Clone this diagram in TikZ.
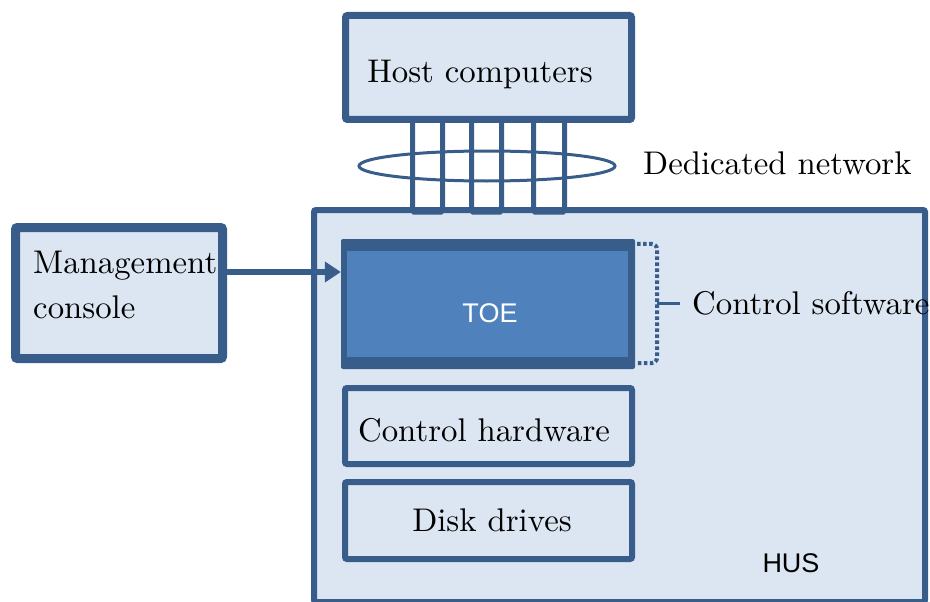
\documentclass[tikz,border=0pt]{standalone}
\usepackage{fontspec}
\setmainfont{lmroman10-regular}[Extension=.otf]
\setsansfont{Liberation Sans}
\usetikzlibrary{shapes.geometric,arrows.meta,calc}
\definecolor{bdr}{HTML}{385D8A}
\definecolor{lite}{HTML}{DCE6F2}
\definecolor{toeblue}{HTML}{4F81BD}
\begin{document}
\begin{tikzpicture}[x=1pt,y=-1pt,
  box/.style={draw=bdr, fill=lite, rounded corners=2pt, inner sep=0pt},
  cable/.style={draw=bdr, line width=5pt, rounded corners=1.5pt, inner sep=0pt, minimum height=94pt},
  lbl/.style={inner sep=0pt, font=\fontsize{32.8}{45}\selectfont},
  slbl/.style={inner sep=0pt, font=\sffamily\fontsize{27}{32}\selectfont},
]
\useasboundingbox (0,0) rectangle (930,602);
% HUS enclosure
\node[box, line width=6pt, minimum width=611pt, minimum height=392pt] (hus) at (619.5,406) {};
% cables
\node[cable, minimum width=30pt] (c1) at (427.5,165) {};
\node[cable, minimum width=30pt] (c2) at (486.5,165) {};
\node[cable, minimum width=31pt] (c3) at (549,165) {};
\node[draw=bdr, line width=3pt, ellipse, minimum width=256pt, minimum height=30pt, inner sep=0pt] (ring) at (487,166) {};
% host
\node[box, line width=7pt, minimum width=286pt, minimum height=104pt] (host) at (488.5,67.5) {};
\node[lbl, anchor=base] (hosttxt) at (480,83) {Host computers};
% console
\node[box, line width=9pt, minimum width=207pt, minimum height=131pt] (console) at (119,293) {};
\node[lbl, anchor=base west] (mc1) at (33,273) {Management};
\node[lbl, anchor=base west] (mc2) at (33,318) {console};
% TOE
\node[fill=bdr, rounded corners=2pt, minimum width=294pt, minimum height=130pt, inner sep=0pt] (toe) at (488,304) {};
\fill[toeblue] ($(toe.north west)+(6,12)$) rectangle ($(toe.south east)+(-7,-12)$);
\node[slbl, text=white, anchor=base] (toetxt) at (490,322) {TOE};
% control hardware, disk drives
\node[box, line width=6pt, minimum width=287pt, minimum height=76pt] (hw) at (488.5,426) {};
\node[lbl, anchor=base] (hwtxt) at (484,441) {Control hardware};
\node[box, line width=6pt, minimum width=287pt, minimum height=77pt] (disk) at (488.5,520.5) {};
\node[lbl, anchor=base] (disktxt) at (492,531) {Disk drives};
% labels
\node[lbl, anchor=base west] (dn) at (643,175) {Dedicated network};
\node[lbl, anchor=base west] (cs) at (692,314) {Control software};
\node[slbl, anchor=base] (hustxt) at (791,572) {HUS};
% arrow console -> TOE
\coordinate (arrstart) at ([yshift=21pt]console.east);
\draw[bdr, line width=6pt, -{Triangle[length=16pt,width=20pt]}] (arrstart) -- (arrstart -| toe.west);
% bracket for control software
\draw[bdr, line width=4pt, dash pattern=on 3.5pt off 2.5pt, rounded corners=6pt]
  ($(toe.north east)+(2,5)$) -- ($(toe.north east)+(22,5)$) -- ($(toe.south east)+(22,-6)$) -- ($(toe.south east)+(2,-6)$);
\coordinate (brmid) at ($(toe.east)+(22,-1)$);
\draw[bdr, line width=3pt, shorten >=12pt] (brmid) -- (brmid -| cs.west);
\end{tikzpicture}
\end{document}
